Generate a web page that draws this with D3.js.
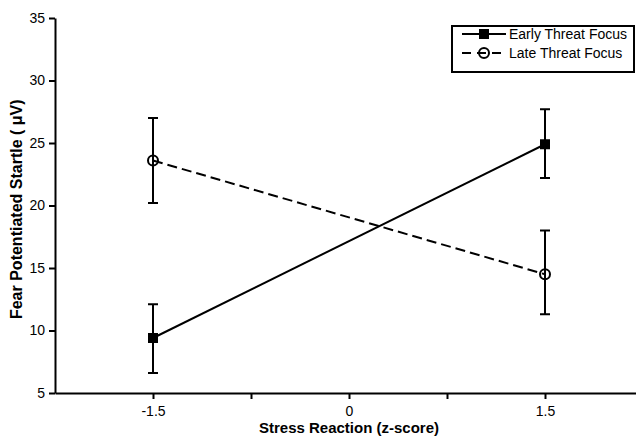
<!DOCTYPE html>
<html>
<head>
<meta charset="utf-8">
<script src="https://cdn.jsdelivr.net/npm/d3@7"></script>
<style>
  body { margin: 0; background: #fff; }
  svg { display: block; }
  .axis path, .axis line { stroke: #000; stroke-width: 2px; }
  .axis text { font-family: Arial, "Liberation Sans", sans-serif; font-size: 14px; fill: #000; }
</style>
</head>
<body>
<div id="chart"></div>
<script>
// group positions on the x axis (z-score of stress reaction)
var xValues = [-1.5, 1.5];

// Early threat focus: means and error bar ends
var earlyMeans = [9.4, 24.9];
var earlyLow = [6.6, 22.2];
var earlyHigh = [12.1, 27.7];

// Late threat focus
var lateMeans = [23.6, 14.5];
var lateLow = [20.2, 11.3];
var lateHigh = [27.0, 18.0];

var seriesNames = ["Early Threat Focus", "Late Threat Focus"];
var xTicks = [-1.5, -0.75, 0, 0.75, 1.5];
var xTickLabels = ["-1.5", "", "0", "", "1.5"];
var yTicks = [5, 10, 15, 20, 25, 30, 35];

var width = 636, height = 438;
var margin = {top: 18, left: 55, bottom: 45};

var svg = d3.select("#chart")
  .append("svg")
  .attr("width", width)
  .attr("height", height);

var x = d3.scaleLinear()
  .domain([-2.25, 2.25])
  .range([margin.left, 643]);

var y = d3.scaleLinear()
  .domain([5, 35])
  .range([height - margin.bottom, margin.top]);

// axes
svg.append("g")
  .attr("class", "axis")
  .attr("transform", "translate(" + margin.left + ",0)")
  .call(d3.axisLeft(y).tickValues(yTicks).tickSize(6).tickSizeOuter(0).tickPadding(4));

svg.append("g")
  .attr("class", "axis")
  .attr("transform", "translate(0," + y(5) + ")")
  .call(d3.axisBottom(x).tickValues(xTicks).tickSize(6).tickSizeOuter(0).tickPadding(7)
    .tickFormat(function(d, i) { return xTickLabels[i]; }));

// axis titles
svg.append("text")
  .attr("x", x(0))
  .attr("y", 433)
  .attr("text-anchor", "middle")
  .style("font-family", "'Liberation Sans Narrow', 'Arial Narrow', Arial, sans-serif")
  .style("font-weight", "bold")
  .style("font-size", "15px")
  .text("Stress Reaction (z-score)");

svg.append("text")
  .attr("transform", "translate(22," + y(19.7) + ")rotate(-90)")
  .attr("text-anchor", "middle")
  .style("font-family", "Arial, 'Liberation Sans', sans-serif")
  .style("font-weight", "bold")
  .style("font-size", "16px")
  .text("Fear Potentiated Startle ( \u03bcV)");

function drawSeries(means, low, high, dashed, marker) {
  var g = svg.append("g");

  // error bars
  g.selectAll(".err")
    .data(xValues)
    .enter()
    .append("line")
      .attr("x1", function(d) { return x(d); })
      .attr("x2", function(d) { return x(d); })
      .attr("y1", function(d, i) { return y(low[i]); })
      .attr("y2", function(d, i) { return y(high[i]); })
      .attr("stroke", "#000")
      .attr("stroke-width", 2);

  var caps = [];
  xValues.forEach(function(d, i) {
    caps.push({x: d, v: low[i]});
    caps.push({x: d, v: high[i]});
  });
  g.selectAll(".cap")
    .data(caps)
    .enter()
    .append("line")
      .attr("x1", function(d) { return x(d.x) - 5; })
      .attr("x2", function(d) { return x(d.x) + 5; })
      .attr("y1", function(d) { return y(d.v); })
      .attr("y2", function(d) { return y(d.v); })
      .attr("stroke", "#000")
      .attr("stroke-width", 2);

  var line = d3.line()
    .x(function(d) { return x(d); })
    .y(function(d, i) { return y(means[i]); });

  g.append("path")
    .datum(xValues)
    .attr("d", line)
    .attr("fill", "none")
    .attr("stroke", "#000")
    .attr("stroke-width", 2)
    .attr("stroke-dasharray", dashed ? "10,5" : null);

  if (marker == "square") {
    g.selectAll(".pt")
      .data(xValues)
      .enter()
      .append("rect")
        .attr("x", function(d) { return x(d) - 5; })
        .attr("y", function(d, i) { return y(means[i]) - 5; })
        .attr("width", 10)
        .attr("height", 10)
        .attr("fill", "#000");
  } else {
    g.selectAll(".pt")
      .data(xValues)
      .enter()
      .append("circle")
        .attr("cx", function(d) { return x(d); })
        .attr("cy", function(d, i) { return y(means[i]); })
        .attr("r", 5)
        .attr("fill", "none")
        .attr("stroke", "#000")
        .attr("stroke-width", 2);
  }
}

drawSeries(earlyMeans, earlyLow, earlyHigh, false, "square");
drawSeries(lateMeans, lateLow, lateHigh, true, "circle");

// legend
var legend = svg.append("g");
legend.append("rect")
  .attr("x", 452)
  .attr("y", 26)
  .attr("width", 182)
  .attr("height", 46)
  .attr("fill", "#fff")
  .attr("stroke", "#000")
  .attr("stroke-width", 2);

legend.selectAll(".ln")
  .data(seriesNames)
  .enter()
  .append("line")
    .attr("x1", 462)
    .attr("x2", 506)
    .attr("y1", function(d, i) { return 34 + i * 19; })
    .attr("y2", function(d, i) { return 34 + i * 19; })
    .attr("stroke", "#000")
    .attr("stroke-width", 2)
    .attr("stroke-dasharray", function(d, i) { return i ? "9,6" : null; });

legend.append("rect")
  .attr("x", 479)
  .attr("y", 29)
  .attr("width", 10)
  .attr("height", 10)
  .attr("fill", "#000");

legend.append("circle")
  .attr("cx", 484)
  .attr("cy", 53)
  .attr("r", 5)
  .attr("fill", "none")
  .attr("stroke", "#000")
  .attr("stroke-width", 2);

legend.selectAll(".lt")
  .data(seriesNames)
  .enter()
  .append("text")
    .attr("x", 509)
    .attr("y", function(d, i) { return 39 + i * 19; })
    .style("font-family", "Arial, 'Liberation Sans', sans-serif")
    .style("font-size", "14px")
    .text(function(d) { return d; });
</script>
</body>
</html>
